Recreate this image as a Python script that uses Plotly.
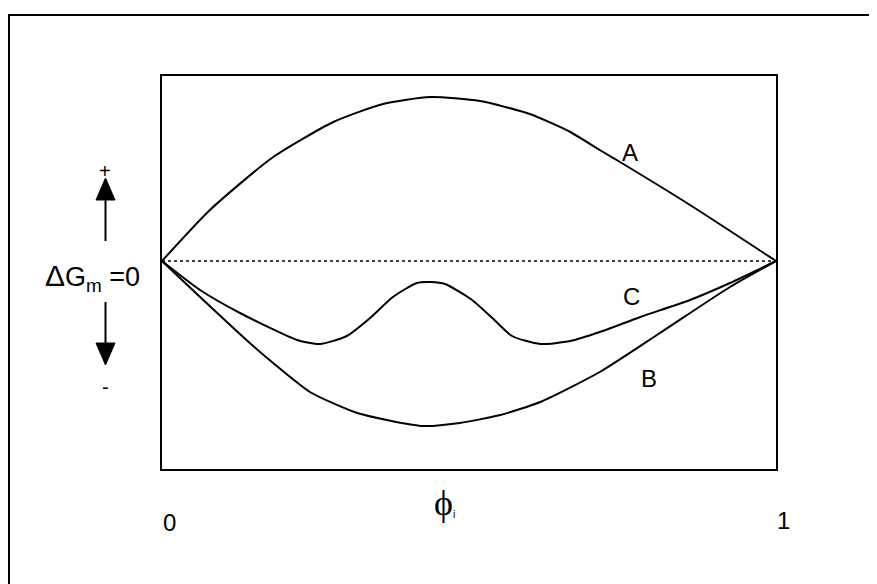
import plotly.graph_objects as go

# ---- data (phi_i from 0 to 1, ΔG_m in arbitrary units) ----
phi_A = [0, 0.078, 0.179, 0.279, 0.360, 0.437, 0.518, 0.599, 0.665, 0.713, 0.746, 0.860, 1.0]
dG_A = [0, 0.51, 1.03, 1.39, 1.57, 1.64, 1.60, 1.47, 1.29, 1.11, 0.99, 0.56, 0]

phi_B = [0, 0.062, 0.143, 0.181, 0.241, 0.318, 0.425, 0.485, 0.551, 0.616, 0.713, 0.811, 0.925, 1.0]
dG_B = [0, -0.36, -0.82, -1.02, -1.31, -1.52, -1.65, -1.62, -1.54, -1.41, -1.11, -0.72, -0.26, 0]

phi_C = [0, 0.062, 0.127, 0.220, 0.257, 0.301, 0.339, 0.376, 0.415, 0.438, 0.461, 0.503,
         0.538, 0.570, 0.616, 0.665, 0.713, 0.779, 0.860, 0.925, 1.0]
dG_C = [0, -0.29, -0.52, -0.79, -0.83, -0.75, -0.57, -0.36, -0.22, -0.21, -0.23, -0.38,
        -0.57, -0.75, -0.83, -0.80, -0.71, -0.56, -0.39, -0.22, 0]

zero_phi = [0, 1]
zero_dG = [0, 0]

curve_labels = ["A", "B", "C"]

# page body has an 8px margin; work in screen pixels and convert
OFF = 8
W, H = 877, 584
L, R, T, B = 162 - OFF, 776 - OFF, 76 - OFF, 469 - OFF


def px(sx):
    return (sx - OFF - L) / (R - L)


def py(sy):
    return (B - (sy - OFF)) / (B - T)


fig = go.Figure()
fig.add_trace(go.Scatter(x=zero_phi, y=zero_dG, mode="lines",
                         line=dict(color="black", width=1.5, dash="dot"), hoverinfo="skip"))
for xs, ys in [(phi_A, dG_A), (phi_B, dG_B), (phi_C, dG_C)]:
    fig.add_trace(go.Scatter(x=xs, y=ys, mode="lines",
                             line=dict(color="black", width=2, shape="spline", smoothing=0.6)))

font = "Liberation Sans, Arial, sans-serif"
ann = []
label_pos = {"A": (0.762, 1.09), "B": (0.793, -1.17), "C": (0.764, -0.35)}
for lab in curve_labels:
    x, y = label_pos[lab]
    ann.append(dict(x=x, y=y, xref="x", yref="y", text=lab, showarrow=False,
                    xanchor="center", yanchor="middle",
                    font=dict(family=font, size=24, color="black")))


def note(sx, sy, text, size, fam=font):
    ann.append(dict(x=px(sx), y=py(sy), xref="paper", yref="paper", text=text, showarrow=False,
                    xanchor="center", yanchor="middle",
                    font=dict(family=fam, size=size, color="black")))


note(169, 522, "0", 24)
note(783, 520, "1", 24)
note(444, 503, "<span style='font-family:Liberation Serif, serif;font-size:36px'>ϕ</span>"
               "<sub>i</sub>", 15)
note(92, 277, "<span style='font-size:30px'>Δ</span>G<sub>m</sub> =0", 27)
note(105, 171, "+", 20)
note(105, 387, "-", 20)

shapes = [
    # outer frame (clipped at right and bottom)
    dict(type="rect", xref="paper", yref="paper", x0=px(9), y0=py(620), x1=px(920), y1=py(15),
         line=dict(color="black", width=2), layer="below"),
    # up arrow
    dict(type="line", xref="paper", yref="paper", x0=px(105.5), y0=py(241), x1=px(105.5), y1=py(198),
         line=dict(color="black", width=2)),
    dict(type="path", xref="paper", yref="paper",
         path=f"M {px(96)} {py(200)} L {px(115)} {py(200)} L {px(105.5)} {py(178)} Z",
         fillcolor="black", line=dict(color="black", width=1)),
    # down arrow
    dict(type="line", xref="paper", yref="paper", x0=px(105.5), y0=py(302), x1=px(105.5), y1=py(345),
         line=dict(color="black", width=2)),
    dict(type="path", xref="paper", yref="paper",
         path=f"M {px(96)} {py(343)} L {px(115)} {py(343)} L {px(105.5)} {py(365)} Z",
         fillcolor="black", line=dict(color="black", width=1)),
]

fig.update_layout(
    width=W, height=H,
    margin=dict(l=L, r=W - R, t=T, b=H - B),
    paper_bgcolor="white", plot_bgcolor="white",
    showlegend=False,
    annotations=ann,
    shapes=shapes,
    xaxis=dict(range=[0, 1], showgrid=False, zeroline=False, showticklabels=False, ticks="",
               showline=True, mirror=True, linecolor="black", linewidth=2),
    yaxis=dict(range=[(261 - 469) / 100, (261 - 76) / 100], showgrid=False, zeroline=False,
               showticklabels=False, ticks="",
               showline=True, mirror=True, linecolor="black", linewidth=2),
)

fig.write_html("out.html")
